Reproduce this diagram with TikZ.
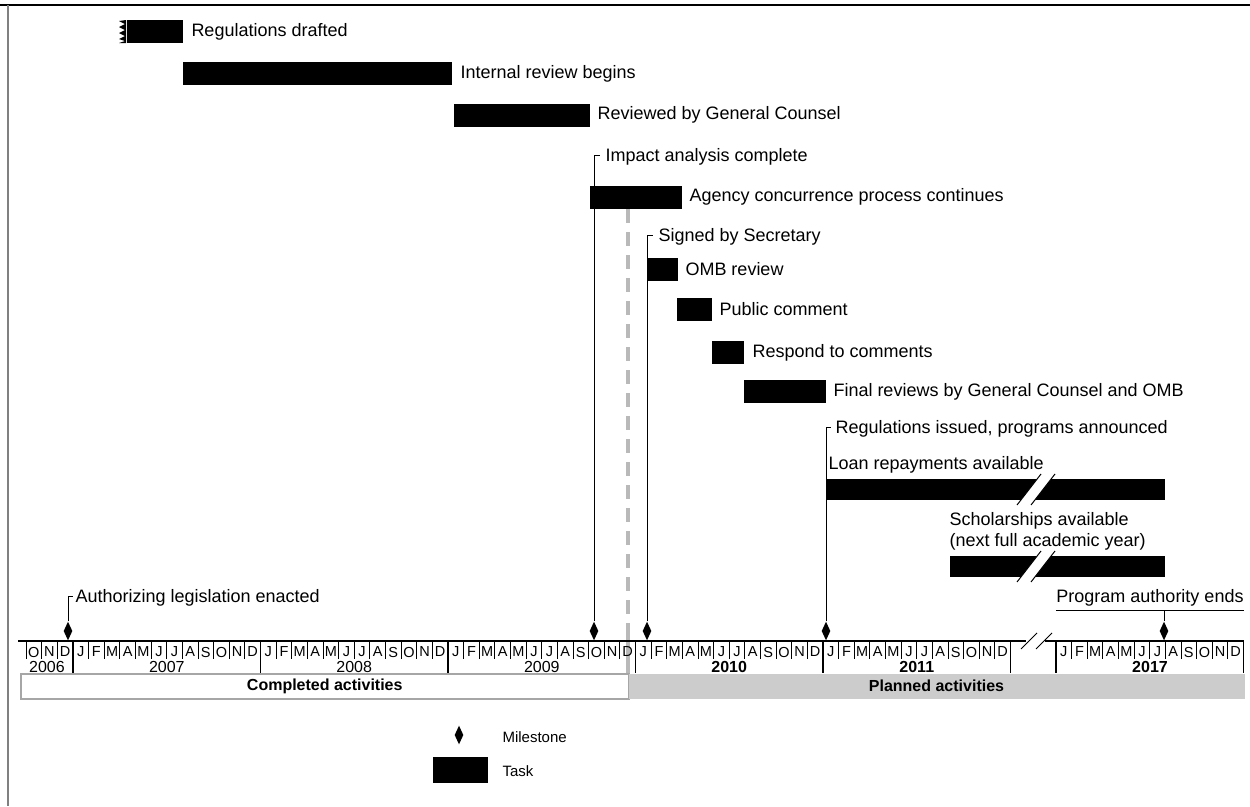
\documentclass[tikz,border=0pt]{standalone}
\usepackage{fontspec}
\setmainfont{Liberation Sans}
\usetikzlibrary{positioning}
\usetikzlibrary{shapes.geometric}

\tikzset{
  task/.style={fill=black, inner sep=0pt, minimum height=23pt, anchor=west},
  lbl/.style={font=\fontsize{18}{21}\selectfont, inner sep=0pt},
  milestone/.style={diamond, fill=black, inner sep=0pt, minimum width=9pt, minimum height=19pt},
  month/.style={font=\fontsize{14.5}{14.5}\selectfont, inner sep=0pt},
  year/.style={font=\fontsize{16}{16}\selectfont, inner sep=0pt},
  status/.style={font=\fontsize{16}{16}\selectfont\bfseries, inner sep=0pt, minimum height=25pt, anchor=north west},
  today/.style={gray!55, line width=3.5pt, dash pattern=on 14pt off 9pt},
}

\begin{document}
\begin{tikzpicture}[x=1pt, y=-1pt, line width=1pt]
\useasboundingbox (0,0) rectangle (1250,806);

% frame
\draw[line width=2.5pt] (0,5) -- (1250,5);
\draw[gray, line width=2.5pt] (8,5) -- (8,806);

% tasks
\node[task, minimum width=56pt] (t1) at (126,31.5) {};
\fill (126,20) -- (119,21) -- (125,24) -- (119,27) -- (125,30) -- (119,33) -- (125,36) -- (119,39) -- (125,41) -- (119,43) -- (126,43) -- cycle;
\node[lbl, right=8pt of t1] (l1) {Regulations drafted};

\node[task, minimum width=269pt] (t2) at (182,73.5) {};
\node[lbl, right=8pt of t2] (l2) {Internal review begins};

\node[task, minimum width=136pt] (t3) at (453,115) {};
\node[lbl, right=7pt of t3] (l3) {Reviewed by General Counsel};

\node[task, minimum width=92pt] (t4) at (589,197) {};
\node[lbl, right=7pt of t4] (l4) {Agency concurrence process continues};

\node[task, minimum width=30pt] (t5) at (647,269.5) {};
\node[lbl, right=7pt of t5] (l5) {OMB review};

\node[task, minimum width=35pt] (t6) at (676,309) {};
\node[lbl, right=7pt of t6] (l6) {Public comment};

\node[task, minimum width=32pt] (t7) at (711,352.5) {};
\node[lbl, right=8pt of t7] (l7) {Respond to comments};

\node[task, minimum width=82pt] (t8) at (743,391.5) {};
\node[lbl, right=7pt of t8] (l8) {Final reviews by General Counsel and OMB};

\node[task, minimum width=338pt, minimum height=21pt] (t9) at (826,489.5) {};
\node[lbl, anchor=west] (l9) at (828,465) {Loan repayments available};

\node[task, minimum width=215pt, minimum height=21pt] (t10) at (949,566.5) {};
\node[lbl, anchor=south west, align=left] (l10) at (949,551) {Scholarships available\\(next full academic year)};

% breaks in the long bars
\foreach \tp/\bt in {479/500, 556/577} {
  \fill[white] (1017,\bt+5) -- (1041,\tp-5) -- (1055,\tp-5) -- (1031,\bt+5) -- cycle;
  \draw (1017,\bt+5) -- (1041,\tp-5);
  \draw (1031,\bt+5) -- (1055,\tp-5);
}

% today line
\draw[today] (t4.south -| 628,0) -- (628,636);
\draw[gray!55, line width=3.5pt] (628,636) -- (628,673);

% status bars
\node[status, draw=gray!70, line width=1.5pt, minimum width=608pt] (done) at (20,673) {Completed activities};
\node[status, fill=gray!40, minimum width=616pt] (plan) at (628,673) {Planned activities};

% axis
\draw[line width=1.8pt] (18,641) -- (1026,641);
\draw[line width=1.8pt] (1045,641) -- (1244,641);
\draw (1021,649) -- (1037,633);
\draw (1036,649) -- (1052,633);
\foreach \x in {73,260.5,448,635.5,823,1010.5,1056,1243.5}
  \draw[line width=1.5pt] (\x,641) -- (\x,673);

\foreach \mn [count=\i from 0] in {O,N,D} {
  \draw ({26+\i*15.625},641) -- ++(0,18);
  \node[month] (m2006-\i) at ({33.8+\i*15.625},652) {\mn};
}
\foreach \ys [count=\y] in {73,260.5,448,635.5,823,1056} {
  \foreach \mn [count=\i from 0] in {J,F,M,A,M,J,J,A,S,O,N,D} {
    \ifnum\i>0 \draw ({\ys+\i*15.625},641) -- ++(0,18); \fi
    \node[month] (m\y-\i) at ({\ys+\i*15.625+7.8},652) {\mn};
  }
}

\node[year] (y2006) at (47,667) {2006};
\node[year] (y2007) at (166.8,667) {2007};
\node[year] (y2008) at (354.2,667) {2008};
\node[year] (y2009) at (541.8,667) {2009};
\node[year, font=\fontsize{16}{16}\selectfont\bfseries] (y2010) at (729.2,667) {2010};
\node[year, font=\fontsize{16}{16}\selectfont\bfseries] (y2011) at (916.8,667) {2011};
\node[year, font=\fontsize{16}{16}\selectfont\bfseries] (y2017) at (1150,667) {2017};

% milestones
\node[milestone] (ms1) at (68,631) {};
\node[lbl, anchor=west] (lb1) at (75,598) {Authorizing legislation enacted};
\draw (ms1.north) |- ([xshift=-2pt, yshift=2pt]lb1.west);

\node[milestone] (ms2) at (594,631) {};
\node[lbl, anchor=west] (lb2) at (605,157) {Impact analysis complete};
\draw (ms2.north) |- ([xshift=-5pt, yshift=2pt]lb2.west);

\node[milestone] (ms3) at (647,631) {};
\node[lbl, anchor=west] (lb3) at (658,237) {Signed by Secretary};
\draw (ms3.north) |- ([xshift=-5pt, yshift=2pt]lb3.west);

\node[milestone] (ms4) at (826,631) {};
\node[lbl, anchor=west] (lb4) at (835,429) {Regulations issued, programs announced};
\draw (ms4.north) |- ([xshift=-4pt, yshift=2pt]lb4.west);

\node[milestone] (ms5) at (1164,631) {};
\node[lbl, anchor=south, inner ysep=3pt] (lb5) at (1150,610) {Program authority ends};
\draw (lb5.south west) -- (lb5.south east);
\draw (ms5.north) -- (ms5.north |- lb5.south);

% legend
\node[milestone] (ms0) at (459,735) {};
\node[lbl, font=\fontsize{15}{18}\selectfont, anchor=west] (lm) at (502,737) {Milestone};
\node[task, minimum width=55pt, minimum height=26pt] (t0) at (432,770) {};
\node[lbl, font=\fontsize{15}{18}\selectfont, anchor=west] (lt) at (502,771) {Task};

\end{tikzpicture}
\end{document}
